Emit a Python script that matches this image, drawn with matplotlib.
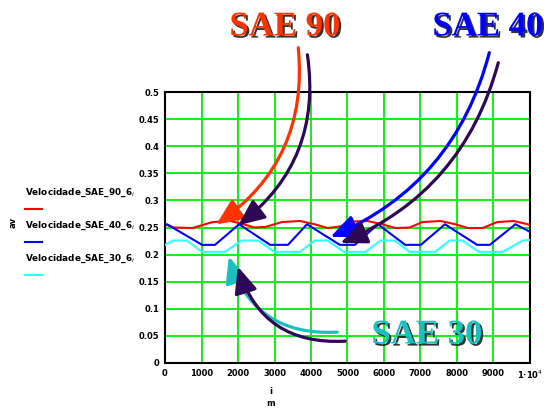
import matplotlib
matplotlib.use('Agg')
import matplotlib.pyplot as plt
import matplotlib.patheffects as pe
from matplotlib.patches import FancyArrowPatch

# velocity curves (time in steps, velocity)
t_sae90 = [0, 250, 750, 1300, 1800, 2200, 2450, 2750, 3200, 3700, 4100, 4450, 4800, 5100, 5550,
           5950, 6300, 6700, 7050, 7550, 7950, 8300, 8700, 9100, 9550, 10000]
v_sae90 = [0.256, 0.250, 0.249, 0.260, 0.262, 0.255, 0.250, 0.251, 0.260, 0.262, 0.256, 0.249, 0.252,
           0.261, 0.262, 0.256, 0.249, 0.250, 0.260, 0.262, 0.256, 0.249, 0.249, 0.260, 0.262, 0.255]

t_sae40 = [0, 55, 1015, 1370, 2030, 2880, 3370, 3890, 4790, 5200, 5835, 6580, 7010, 7670,
           8550, 8900, 9600, 10000]
v_sae40 = [0.254, 0.256, 0.218, 0.218, 0.256, 0.218, 0.218, 0.256, 0.218, 0.218, 0.256, 0.218,
           0.218, 0.256, 0.218, 0.218, 0.256, 0.242]

t_sae30 = [0, 220, 600, 1010, 1640, 2100, 2550, 3000, 3700, 4100, 4450, 4900, 5500, 5900, 6300,
           6700, 7400, 7800, 8150, 8600, 9250, 9800, 10000]
v_sae30 = [0.218, 0.226, 0.226, 0.205, 0.205, 0.226, 0.226, 0.205, 0.205, 0.226, 0.226, 0.205,
           0.205, 0.226, 0.226, 0.205, 0.205, 0.226, 0.226, 0.205, 0.205, 0.226, 0.227]

x_ticks = [0, 1000, 2000, 3000, 4000, 5000, 6000, 7000, 8000, 9000, 10000]
x_labels = ['0', '1000', '2000', '3000', '4000', '5000', '6000', '7000', '8000', '9000', '1·10$^4$']
y_ticks = [0, 0.05, 0.1, 0.15, 0.2, 0.25, 0.3, 0.35, 0.4, 0.45, 0.5]
y_labels = ['0', '0.05', '0.1', '0.15', '0.2', '0.25', '0.3', '0.35', '0.4', '0.45', '0.5']

series_names = ['Velocidade_SAE_90_6', 'Velocidade_SAE_40_6', 'Velocidade_SAE_30_6']
series_colors = ['#ff0000', '#0000ff', '#33ffff']

W, H = 544, 408
fig = plt.figure(figsize=(W / 100, H / 100), dpi=100)
ax = fig.add_axes([165 / W, 1 - 363 / H, 365 / W, 271 / H])

ax.plot(t_sae90, v_sae90, color=series_colors[0], lw=1.5, zorder=3)
ax.plot(t_sae40, v_sae40, color=series_colors[1], lw=1.5, zorder=3)
ax.plot(t_sae30, v_sae30, color=series_colors[2], lw=1.5, zorder=3)

ax.set_xlim(0, 10000)
ax.set_ylim(0, 0.5)
ax.set_xticks(x_ticks)
ax.set_xticklabels(x_labels, fontsize=6, fontweight='bold')
ax.set_yticks(y_ticks)
ax.set_yticklabels(y_labels, fontsize=6, fontweight='bold')
ax.tick_params(length=0, pad=4)
ax.grid(True, color='#00ee00', lw=1.3)
ax.set_axisbelow(True)
for sp in ax.spines.values():
    sp.set_linewidth(1.5)
    sp.set_color('black')

# legend on the left, labels with short line samples underneath
for i, (name, col) in enumerate(zip(series_names, series_colors)):
    ytxt = 193 + i * 33
    fig.text(25 / W, 1 - ytxt / H, name + '$_{i}$', fontsize=6.4, fontweight='bold',
             ha='left', va='center')
    fig.lines.append(plt.Line2D([25 / W, 42 / W], [1 - (ytxt + 16) / H] * 2,
                                transform=fig.transFigure, color=col, lw=1.5))
fig.text(13 / W, 1 - 222 / H, 'av', fontsize=6, fontweight='bold', rotation=90,
         ha='center', va='center')
fig.text(271 / W, 1 - 392 / H, 'i', fontsize=6, fontweight='bold', ha='center', va='center')
fig.text(271 / W, 1 - 404 / H, 'm', fontsize=6, fontweight='bold', ha='center', va='center')


def fpos(x, y):
    return (x / W, 1 - y / H)


dark = '#2e0854'
arrows = [
    ((298, 45), (214, 226), '#ff3300', -0.3),
    ((307, 52), (236, 227), dark, -0.3),
    ((490, 50), (328, 238), '#0000ff', -0.25),
    ((499, 60), (338, 244), dark, -0.25),
    ((340, 332), (228, 254), '#1ac0c0', -0.4),
    ((348, 341), (237, 264), dark, -0.4),
]
for a, b, col, rad in arrows:
    arr = FancyArrowPatch(fpos(*a), fpos(*b), transform=fig.transFigure,
                          connectionstyle='arc3,rad=%s' % rad,
                          arrowstyle='-|>,head_length=16,head_width=7',
                          color=col, lw=2.3, zorder=10)
    fig.patches.append(arr)

shadow = [pe.withSimplePatchShadow(offset=(1.5, -1.5), shadow_rgbFace='black', alpha=0.8)]
labels = [('SAE 90', (285, 27), '#ff3300'), ('SAE 40', (488, 27), '#0000ff'),
          ('SAE 30', (427, 335), '#1ac0c0')]
for txt, pos, col in labels:
    fig.text(*fpos(*pos), txt, color=col, fontsize=25, fontweight='bold',
             family='Liberation Serif', ha='center', va='center', path_effects=shadow, zorder=11)

fig.savefig('out.png', dpi=100)
